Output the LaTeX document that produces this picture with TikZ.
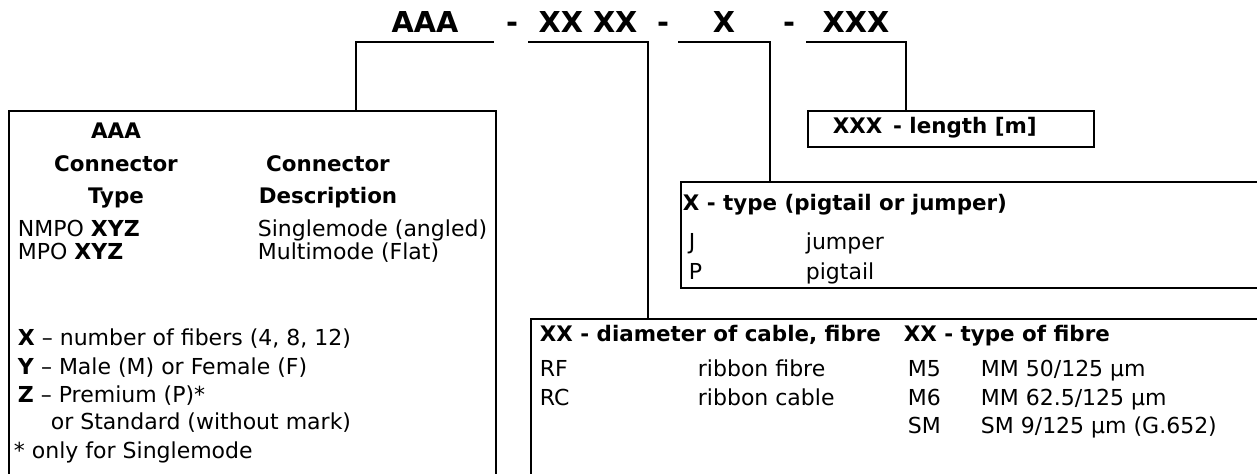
\documentclass[tikz,border=0pt]{standalone}
\usepackage{fontspec}
\setmainfont{DejaVu Sans}

\begin{document}
\begin{tikzpicture}[
    x=0.5pt, y=-0.5pt,
    line width=0.9pt,
    code/.style={anchor=base, inner xsep=0pt, inner ysep=4pt, text depth=0pt, font=\fontsize{14.4}{17}\selectfont\bfseries},
    panel/.style={rectangle, draw, anchor=north west, inner sep=0pt},
    txt/.style={anchor=base west, inner sep=0pt, font=\fontsize{11}{13}\selectfont},
    head/.style={txt, font=\fontsize{10.7}{13}\selectfont\bfseries},
    colhead/.style={anchor=base, inner sep=0pt, font=\fontsize{10.7}{13}\selectfont\bfseries}
]
    \useasboundingbox (0,0) rectangle (1257,474);
    \clip (0,0) rectangle (1257,474);

    % Order code
    \node[code, minimum width=68pt] (codeA) at (425,33) {AAA};
    \node[code] (dash1) at (512,33) {-};
    \node[code, minimum width=59pt] (codeD) at (588,33) {XX XX};
    \node[code] (dash2) at (663,33) {-};
    \node[code, minimum width=45pt] (codeT) at (724,33) {X};
    \node[code] (dash3) at (789,33) {-};
    \node[code, minimum width=49pt] (codeL) at (856,33) {XXX};

    % Panels
    \node[panel, minimum width=243.5pt, minimum height=190pt] (boxA) at (8,110) {};
    \node[panel, minimum width=143pt, minimum height=18pt] (boxL) at (807,110) {};
    \node[panel, minimum width=300pt, minimum height=53pt] (boxT) at (680,181) {};
    \node[panel, minimum width=375pt, minimum height=90pt] (boxD) at (530,318) {};

    % Links
    \draw (codeA.south east) -- (codeA.south west) -- (codeA.south west |- boxA.north);
    \draw (codeD.south west) -- (codeD.south east) -- (codeD.south east |- boxD.north);
    \draw (codeT.south west) -- (codeT.south east) -- (codeT.south east |- boxT.north);
    \draw (codeL.south west) -- (codeL.south east) -- (codeL.south east |- boxL.north);

    % Connector type
    \node[colhead] (aaaHead) at (116,139) {AAA};
    \node[colhead] (typeHead1) at (116,172) {Connector};
    \node[colhead] (descHead1) at (328,172) {Connector};
    \node[colhead] (typeHead2) at (116,204) {Type};
    \node[colhead] (descHead2) at (328,204) {Description};
    \node[txt] (nmpo) at (17,237) {NMPO \textbf{XYZ}};
    \node[txt] (nmpoDesc) at (257,237) {Singlemode (angled)};
    \node[txt] (mpo) at (17,260) {MPO \textbf{XYZ}};
    \node[txt] (mpoDesc) at (257,260) {Multimode (Flat)};
    \node[txt] (keyX) at (17,346) {\textbf{X} -- number of fibers (4, 8, 12)};
    \node[txt] (keyY) at (17,375) {\textbf{Y} -- Male (M) or Female (F)};
    \node[txt] (keyZ) at (17,403) {\textbf{Z} -- Premium (P)*};
    \node[txt] (keyZb) at (50,430) {or Standard (without mark)};
    \node[txt] (note) at (13,459) {* only for Singlemode};

    % Length
    \node[head] (lenText) at (832,134) {XXX\hspace{0.5em}- length [m]};

    % Pigtail / jumper
    \node[head] (typeHead) at (682,211) {X - type (pigtail or jumper)};
    \node[txt] (typeJ) at (688,250) {J};
    \node[txt] (typeJDesc) at (805,250) {jumper};
    \node[txt] (typeP) at (688,280) {P};
    \node[txt] (typePDesc) at (805,280) {pigtail};

    % Cable and fibre
    \node[head] (diamHead) at (539,342) {XX - diameter of cable, fibre};
    \node[head] (fibreHead) at (903,342) {XX - type of fibre};
    \node[txt] (diamRF) at (539,377) {RF};
    \node[txt] (diamRFDesc) at (697,377) {ribbon fibre};
    \node[txt] (diamRC) at (539,406) {RC};
    \node[txt] (diamRCDesc) at (697,406) {ribbon cable};
    \node[txt] (fibreM5) at (907,377) {M5};
    \node[txt] (fibreM5Desc) at (980,377) {MM 50/125 µm};
    \node[txt] (fibreM6) at (907,406) {M6};
    \node[txt] (fibreM6Desc) at (980,406) {MM 62.5/125 µm};
    \node[txt] (fibreSM) at (907,434) {SM};
    \node[txt] (fibreSMDesc) at (980,434) {SM 9/125 µm (G.652)};
\end{tikzpicture}
\end{document}
